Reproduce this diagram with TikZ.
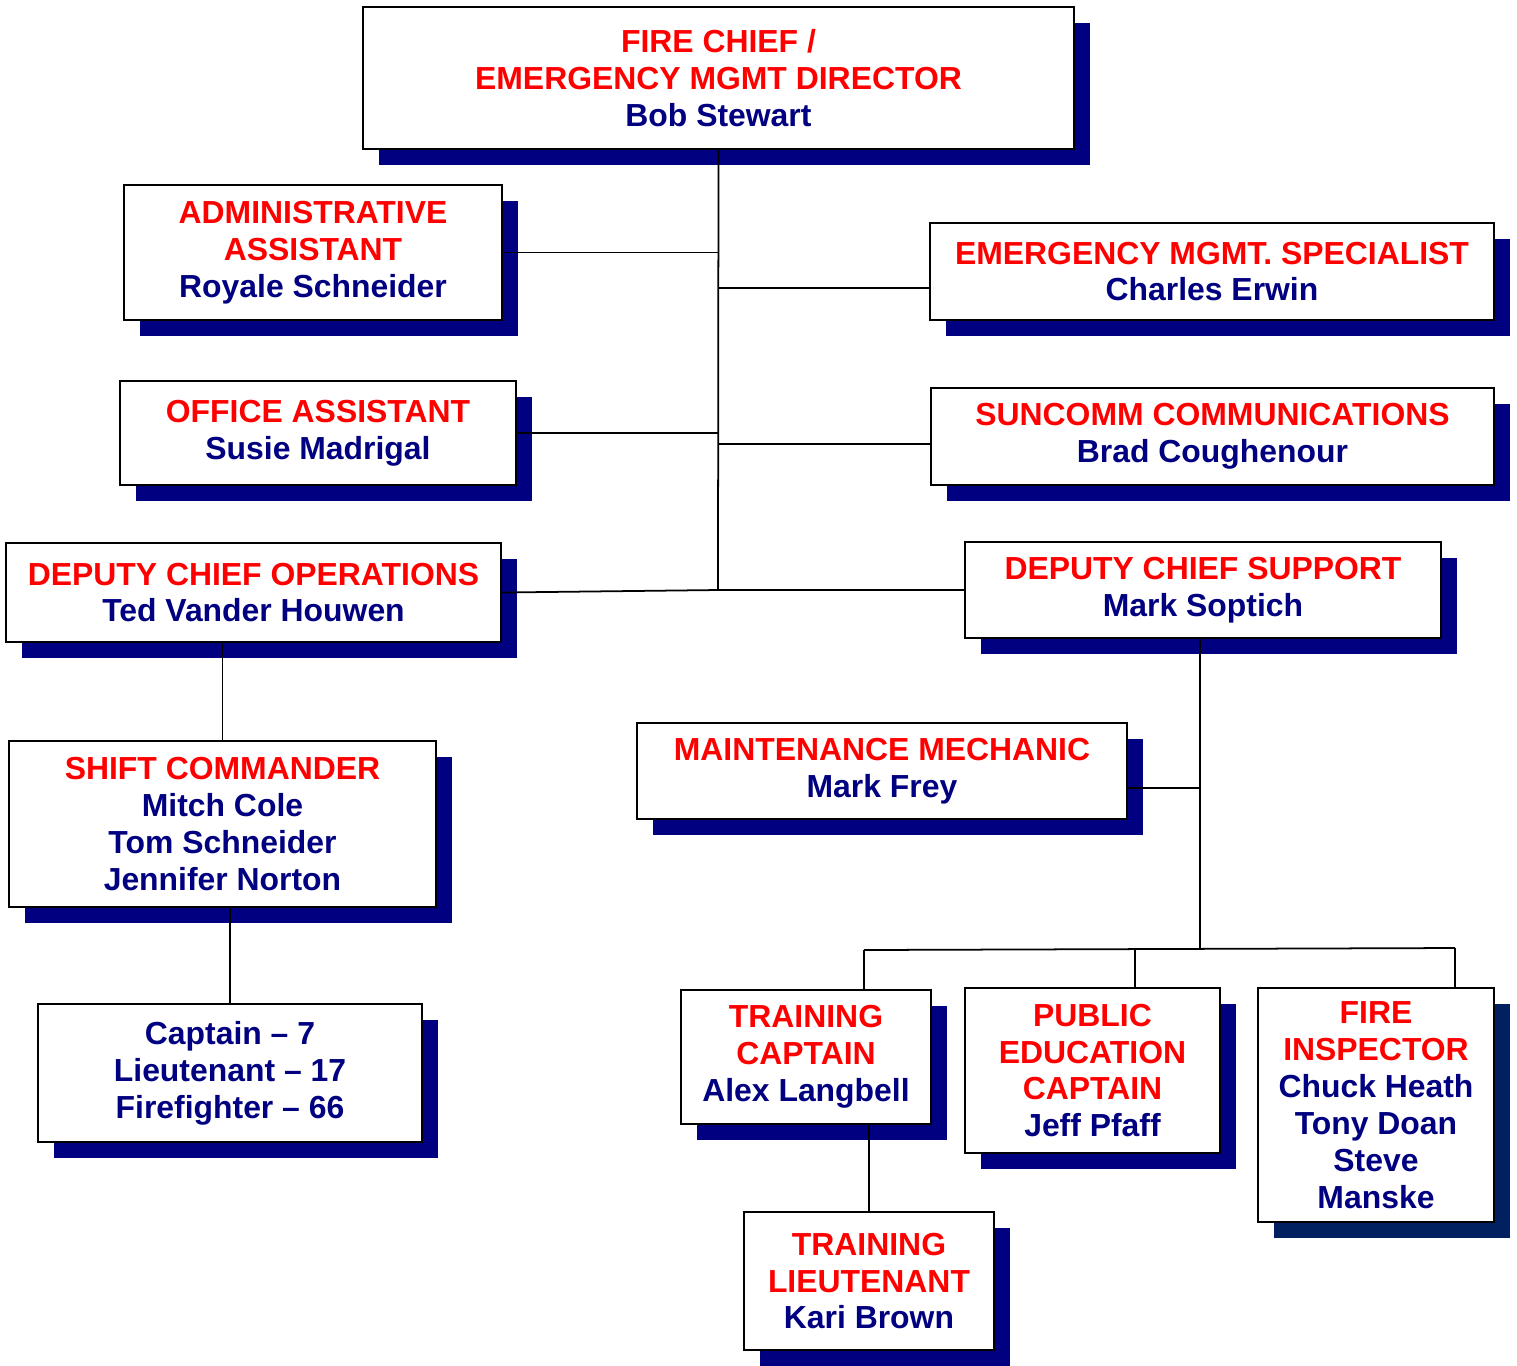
\documentclass[tikz,border=0pt]{standalone}
\usepackage{fontspec}
\setmainfont{Liberation Sans}
\usetikzlibrary{shadows}
\definecolor{rolered}{RGB}{255,0,0}
\definecolor{namenavy}{RGB}{0,0,128}
\definecolor{shadenavy}{RGB}{0,0,128}
\definecolor{shadedark}{RGB}{0,32,96}
\newcommand{\rolename}[1]{\textcolor{rolered}{#1}}

\begin{document}
\begin{tikzpicture}[
    x=0.01cm, y=-0.01cm,
    post/.style={draw, fill=white, line width=0.6pt, inner sep=0pt, align=center,
        text=namenavy, font=\fontsize{9.07pt}{10.5pt}\selectfont\bfseries,
        drop shadow={fill=shadenavy, opacity=1, shadow xshift=0.16cm, shadow yshift=-0.16cm}},
    link/.style={line width=0.5pt}
]
\useasboundingbox (0,0) rectangle (1517,1365);

% Top
\node[post, minimum width=7.11cm, minimum height=1.42cm] (chief) at (718.5,78)
    {\rolename{FIRE CHIEF /}\\ \rolename{EMERGENCY MGMT DIRECTOR}\\ Bob Stewart};

% Staff left
\node[post, minimum width=3.78cm, minimum height=1.35cm] (admin) at (313,252.5)
    {\rolename{ADMINISTRATIVE}\\ \rolename{ASSISTANT}\\ Royale Schneider};
\node[post, minimum width=3.96cm, minimum height=1.04cm] (office) at (318,433)
    {\rolename{OFFICE ASSISTANT}\\ Susie Madrigal};
\node[post, minimum width=4.95cm, minimum height=0.99cm] (dco) at (253.5,592.5)
    {\rolename{DEPUTY CHIEF OPERATIONS}\\ Ted Vander Houwen};

% Staff right
\node[post, minimum width=5.64cm, minimum height=0.97cm] (ems) at (1212,271.5)
    {\rolename{EMERGENCY MGMT. SPECIALIST}\\ Charles Erwin};
\node[post, minimum width=5.63cm, minimum height=0.97cm] (suncomm) at (1212.5,436.5)
    {\rolename{SUNCOMM COMMUNICATIONS}\\ Brad Coughenour};
\node[post, minimum width=4.76cm, minimum height=0.96cm] (dcs) at (1203,590)
    {\rolename{DEPUTY CHIEF SUPPORT}\\ Mark Soptich};

% Operations
\node[post, minimum width=4.27cm, minimum height=1.66cm] (shift) at (222.5,824)
    {\rolename{SHIFT COMMANDER}\\ Mitch Cole\\ Tom Schneider\\ Jennifer Norton};
\node[post, minimum width=3.84cm, minimum height=1.38cm] (ranks) at (230,1073)
    {Captain -- 7\\ Lieutenant -- 17\\ Firefighter -- 66};

% Support
\node[post, minimum width=4.90cm, minimum height=0.96cm] (maint) at (882,771)
    {\rolename{MAINTENANCE MECHANIC}\\ Mark Frey};
\node[post, minimum width=2.50cm, minimum height=1.34cm] (trcapt) at (806,1057)
    {\rolename{TRAINING}\\ \rolename{CAPTAIN}\\ Alex Langbell};
\node[post, minimum width=2.55cm, minimum height=1.65cm] (pubed) at (1092.5,1070.5)
    {\rolename{PUBLIC}\\ \rolename{EDUCATION}\\ \rolename{CAPTAIN}\\ Jeff Pfaff};
\node[post, minimum width=2.36cm, minimum height=2.34cm,
    drop shadow={fill=shadedark, opacity=1, shadow xshift=0.16cm, shadow yshift=-0.16cm}] (insp) at (1376,1105)
    {\rolename{FIRE}\\ \rolename{INSPECTOR}\\ Chuck Heath\\ Tony Doan\\ Steve\\ Manske};
\node[post, minimum width=2.50cm, minimum height=1.38cm] (trlt) at (869,1281)
    {\rolename{TRAINING}\\ \rolename{LIEUTENANT}\\ Kari Brown};

% Trunk and branches
\coordinate (trunk) at (718,590);
\coordinate (emsjoin) at (930,288);
\coordinate (sunjoin) at (931,444);
\draw[link] (chief.south) -- (trunk);
\draw[link] (admin.east) -- (admin.east -| trunk);
\draw[link] (emsjoin -| trunk) -- (emsjoin);
\draw[link] (office.east) -- (office.east -| trunk);
\draw[link] (sunjoin -| trunk) -- (sunjoin);
\draw[link] (dco.east) -- (trunk) -- (dcs.west);

% Operations chain
\draw[link] (dco.south -| shift.north) -- (shift.north);
\draw[link] (ranks.north |- shift.south) -- (ranks.north);

% Support chain
\coordinate (bus) at (1200,948);
\coordinate (maintjoin) at (1127,788);
\coordinate (b1) at (864,950);
\coordinate (b2) at (1135,950);
\coordinate (b3) at (1455,948);
\draw[link] (dcs.south -| bus) -- (bus);
\draw[link] (maintjoin) -- (maintjoin -| bus);
\draw[link] (b1) -- (b3);
\draw[link] (b1) -- (b1 |- trcapt.north);
\draw[link] (b2) -- (b2 |- pubed.north);
\draw[link] (b3) -- (b3 |- insp.north);
\draw[link] (trlt.north |- trcapt.south) -- (trlt.north);

\end{tikzpicture}
\end{document}
